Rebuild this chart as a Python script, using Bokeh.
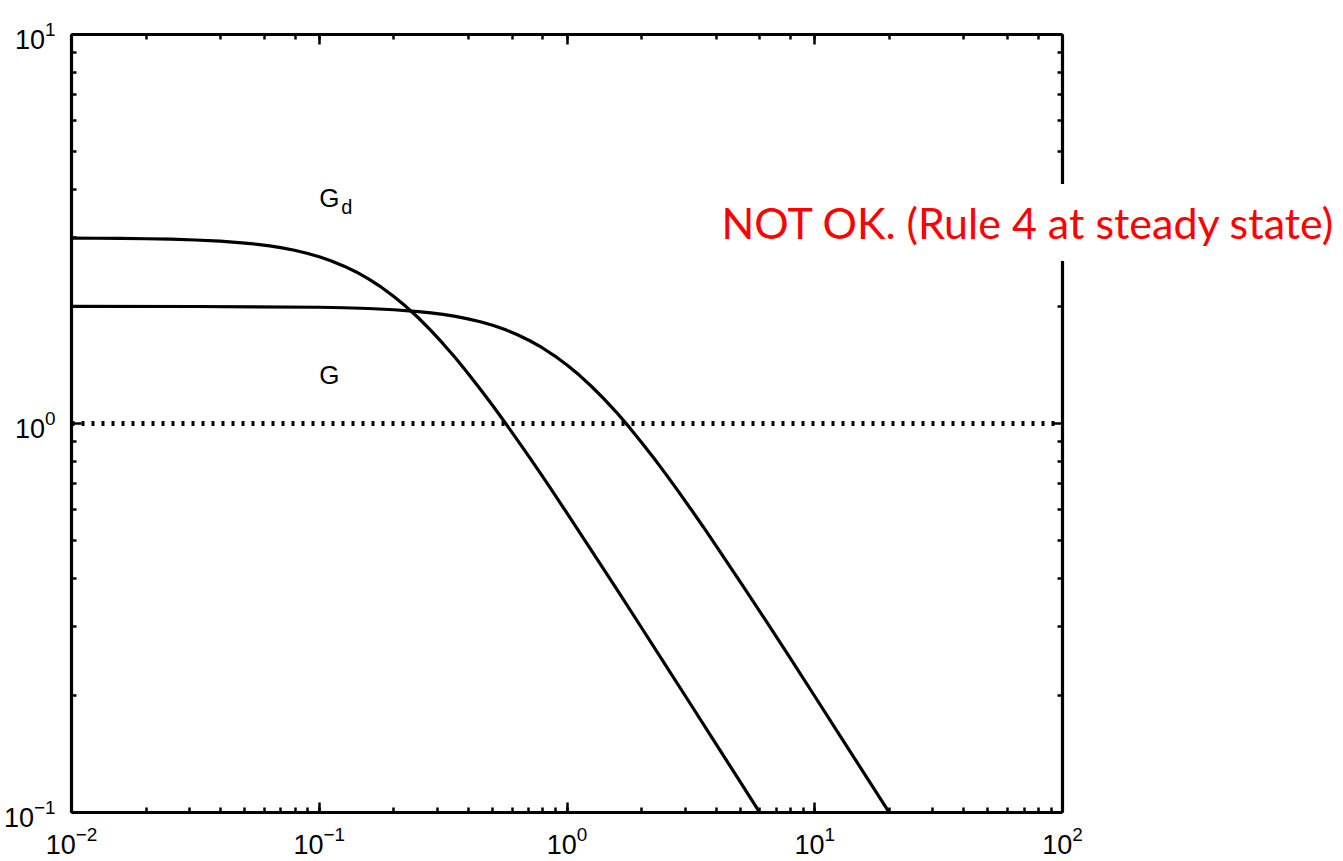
from bokeh.plotting import figure
from bokeh.models import LogAxis, Label, Range1d, CustomJSTickFormatter, FixedTicker, LogTickFormatter
from bokeh.embed import file_html
from bokeh.resources import INLINE

# frequency response magnitudes
w_gd = [0.01, 0.0126, 0.0158, 0.02, 0.0251, 0.0316, 0.0398, 0.0501, 0.0562, 0.0631, 0.0708,
        0.0794, 0.0891, 0.1, 0.112, 0.126, 0.141, 0.158, 0.178, 0.2, 0.224, 0.251, 0.282,
        0.316, 0.355, 0.398, 0.447, 0.501, 0.562, 0.631, 0.708, 0.794, 0.891, 1.0, 1.26,
        1.58, 2.0, 2.51, 3.16, 3.98, 5.01, 6.31]
mag_gd = [2.996, 2.994, 2.991, 2.985, 2.977, 2.963, 2.942, 2.910, 2.888, 2.861, 2.828,
          2.788, 2.740, 2.683, 2.618, 2.538, 2.452, 2.354, 2.241, 2.121, 1.998, 1.870, 1.736,
          1.604, 1.473, 1.347, 1.225, 1.112, 1.006, 0.906, 0.816, 0.733, 0.657, 0.588, 0.470,
          0.377, 0.2985, 0.2383, 0.1895, 0.1506, 0.1197, 0.0950]

w_g = [0.01, 0.0316, 0.1, 0.126, 0.158, 0.2, 0.251, 0.282, 0.316, 0.355, 0.398, 0.447,
       0.501, 0.562, 0.631, 0.708, 0.794, 0.891, 1.0, 1.12, 1.26, 1.41, 1.58, 1.78, 2.0,
       2.24, 2.51, 2.82, 3.16, 3.55, 3.98, 5.01, 6.31, 7.94, 10.0, 12.6, 15.8, 20.0]
mag_g = [2.000, 1.999, 1.990, 1.984, 1.975, 1.961, 1.940, 1.925, 1.907, 1.885, 1.858, 1.826,
         1.788, 1.744, 1.691, 1.632, 1.566, 1.493, 1.414, 1.332, 1.243, 1.157, 1.070, 0.980,
         0.894, 0.815, 0.740, 0.668, 0.603, 0.542, 0.487, 0.391, 0.313, 0.250, 0.199, 0.158,
         0.1263, 0.0999]

ref_level = 1.0
x_limits = [0.01, 100]
y_limits = [0.1, 10]
y_major = [0.1, 1, 10]
y_minor = [0.2, 0.3, 0.4, 0.5, 0.6, 0.7, 0.8, 0.9, 2, 3, 4, 5, 6, 7, 8, 9]

FRAME_LEFT = 71
PX_PER_DECADE = (1062 - 71) / 4.0
x_view_max = 10 ** (-2 + (1343 - FRAME_LEFT) / PX_PER_DECADE)

p = figure(width=1343, height=861, x_axis_type="log", y_axis_type="log",
           x_range=Range1d(x_limits[0], x_view_max), y_range=Range1d(*y_limits),
           output_backend="svg", toolbar_location=None,
           min_border_left=FRAME_LEFT, min_border_right=0, min_border_top=34, min_border_bottom=49)
p.outline_line_color = None
p.grid.visible = False
p.background_fill_color = "white"
p.border_fill_color = "white"

blank = CustomJSTickFormatter(code="return ''")
p.add_layout(LogAxis(formatter=blank), "above")
p.add_layout(LogAxis(formatter=blank, fixed_location=x_limits[1],
                     ticker=FixedTicker(ticks=y_major, minor_ticks=y_minor)), "right")

left_ax = p.left[0]
bottom_ax = p.below[0]
top_ax = p.above[0]
right_ax = p.right[0]

left_ax.ticker = FixedTicker(ticks=y_major, minor_ticks=y_minor)
left_ax.formatter = LogTickFormatter()

for ax in (left_ax, bottom_ax, top_ax, right_ax):
    ax.axis_line_width = 3.2
    ax.axis_line_color = "black"
    ax.major_tick_in = 10
    ax.major_tick_out = 0
    ax.minor_tick_in = 5
    ax.minor_tick_out = 0
    ax.major_tick_line_width = 2.5
    ax.minor_tick_line_width = 2.5
    ax.major_tick_line_color = "black"
    ax.minor_tick_line_color = "black"
    ax.major_label_text_font = "Liberation Sans"
    ax.major_label_text_font_size = "27px"
    ax.major_label_text_color = "black"
bottom_ax.bounds = tuple(x_limits)
top_ax.bounds = tuple(x_limits)
top_ax.major_label_text_font_size = "0px"
right_ax.major_label_text_font_size = "0px"
bottom_ax.major_label_standoff = 13
left_ax.major_label_standoff = 16

p.line(x_limits, [ref_level, ref_level], line_color="black", line_width=5, line_dash="3 7")

p.line(w_gd, mag_gd, line_color="black", line_width=3.2)
p.line(w_g, mag_g, line_color="black", line_width=3.2)

p.add_layout(Label(x=0.1, y=3.79, text="G", text_font="Liberation Sans", text_color="black",
                   text_font_size="26px", text_baseline="alphabetic"))
p.add_layout(Label(x=0.1, y=3.79, x_offset=22, y_offset=-9, text="d", text_color="black",
                   text_font="Liberation Sans", text_font_size="20px",
                   text_baseline="alphabetic"))
p.add_layout(Label(x=0.1, y=1.33, text="G", text_font="Liberation Sans", text_color="black",
                   text_font_size="26px", text_baseline="alphabetic"))

p.add_layout(Label(x=637, y=590, x_units="screen", y_units="screen",
                   text="NOT OK. (Rule 4 at steady state)", text_color="red",
                   text_font="Lato", text_font_size="43px", text_baseline="middle",
                   background_fill_color="white", padding=13))

open("out.html", "w").write(file_html(p, INLINE))
